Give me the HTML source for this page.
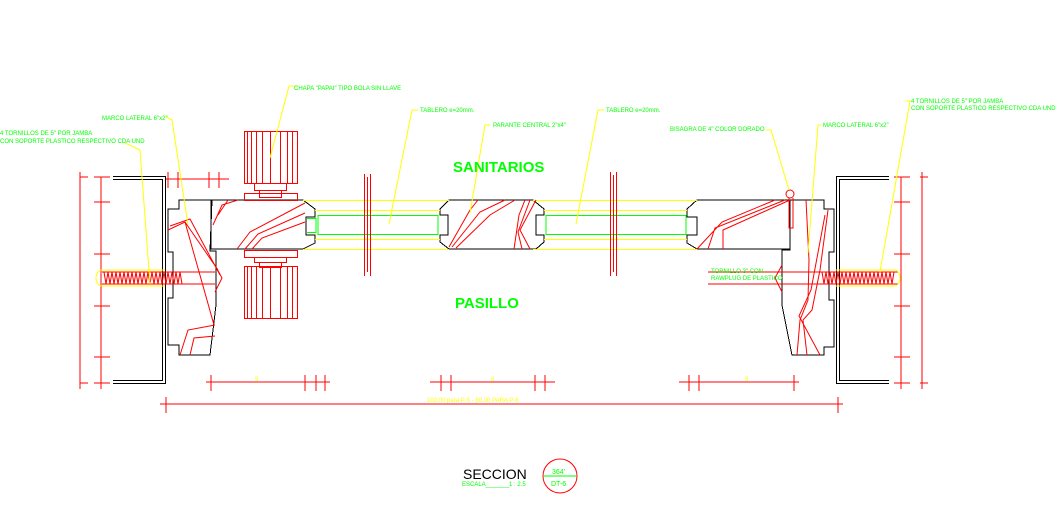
<!DOCTYPE html>
<html><head><meta charset="utf-8"><style>
html,body{margin:0;padding:0;background:#fff;}
svg{display:block;}
text{font-family:"Liberation Sans",sans-serif;}
</style></head><body>
<svg width="1056" height="513" viewBox="0 0 1056 513" xmlns="http://www.w3.org/2000/svg">
<g fill="none" stroke-width="1" shape-rendering="crispEdges">
<path d="M113 176.5H165.5V383.5H113 M113 179.5H162.5V380.5H113" stroke="#000"/>
<path d="M889 176.5H836.5V383.5H889 M889 179.5H839.5V380.5H889" stroke="#000"/>
<path d="M212 200H179V209H168V252H173V298H168V345H179V355H210L216 305V251H210Z" stroke="#000"/>
<path d="M790 200H824V209H834V252H829V300H834V347H824V355H792L782 305V250H790Z" stroke="#000"/>
<path d="M211 200H303L315 209V217H306V235H315V243L303 249H211Z" stroke="#000"/>
<path d="M790 200H697L687 209V217H697V235H687V243L697 249H790" stroke="#000"/>
<path d="M449 200H533L544 209V215H536V235H544V242L536 249H449L440 242V235H448V215H440V209Z" stroke="#000"/>
<path d="M303 200.5H449 M315 210.5H440 M315 239.5H440 M303 249.5H449 M533 200.5H697 M544 210.5H687 M544 239.5H687 M533 249.5H697" stroke="#ff0"/>
<path d="M318 215.5H438V234.5H318Z M546 215.5H686V234.5H546Z M307 218.5H316V232.5H307" stroke="#0f0"/>
<path d="M364.5 174V276 M367.5 177V272 M370.5 174V276 M610.5 172V276 M613.5 175V272 M616.5 172V276" stroke="#f00"/>
<g stroke="#f00">
<rect x="244.5" y="131.5" width="53" height="52"/><rect x="244.5" y="266.5" width="53" height="52"/>
<rect x="254.5" y="183.5" width="32" height="7"/><rect x="259.5" y="190.5" width="22" height="7"/>
<rect x="244.5" y="193.5" width="53" height="7"/><rect x="244.5" y="250.5" width="53" height="7"/>
<rect x="254.5" y="257.5" width="32" height="5"/><rect x="259.5" y="262.5" width="22" height="5"/>
<path d="M247.5 131V183M251.5 131V183M256.5 131V183M262.5 131V183M270.5 131V183M280.5 131V183M287.5 131V183M292.5 131V183 M247.5 266V318M251.5 266V318M256.5 266V318M262.5 266V318M270.5 266V318M280.5 266V318M287.5 266V318M292.5 266V318"/>
</g>
</g>
<g fill="none" stroke-width="1" stroke="#f00">
<path d="M237 249L250 232L305 203 M245 249L258 234L305 213 M252 249L262 238L305 222 M213 225L222 205L238 200 M218 215L228 200"/>
<path d="M168 230L185 222L218 270 M170 226L190 219L220 275 M185 222L214 325 M180 355L188 330L215 325 M190 355L194 338L215 336"/>
<path d="M449 247L470 210L478 200 M452 247L480 212L505 200 M456 248L490 215L515 200 M514 249L519 215L525 200 M522 249L518 232L530 200 M530 249L520 230L536 200"/>
<path d="M697 249L722 222L775 200 M708 249L715 228L785 200 M723 249L723 230L790 200"/>
<path d="M806 200L809 260L808 300L800 320L797 355 M828 210L820 270L812 310L803 320L807 355 M825 215L811 290L799 316L820 355"/>
<circle cx="790" cy="194" r="4"/><path d="M789 198V228H793V198"/>
<path d="M102 272H215 M102 284H215 M215 265L222 278L215 292 M708 272H805 M708 284H805 M782 265L775 278L782 292 M805 272H898 M805 284H898"/>
<path d="M104 272L106 284L108 272L110 284L112 272L114 284L116 272L118 284L120 272L122 284L124 272L126 284L128 272L130 284L132 272L134 284L136 272L138 284L140 272L142 284L144 272L146 284L148 272L150 284L152 272L154 284L156 272L158 284L160 272L162 284L164 272L166 284L168 272L170 284L172 272L174 284L176 272L178 284L180 272L182 284"/>
<path d="M822 272L824 284L826 272L828 284L830 272L832 284L834 272L836 284L838 272L840 284L842 272L844 284L846 272L848 284L850 272L852 284L854 272L856 284L858 272L860 284L862 272L864 284L866 272L868 284L870 272L872 284L874 272L876 284L878 272L880 284L882 272L884 284L886 272L888 284L890 272L892 284L894 272"/>
<path d="M80 177H88 M80 383H88 M80 172V389 M101 177V389 M94 177H110 M94 202H110 M94 254H110 M94 306H110 M94 357H110 M94 383H110"/>
<path d="M920 177H928 M920 383H928 M922 172V389 M901 177V389 M894 177H910 M894 202H910 M894 254H910 M894 306H910 M894 357H910 M894 383H910"/>
<path d="M166 179H229 M168 172V188 M178 172V188 M209 172V188 M219 172V188"/>
<path d="M206 382H330 M211 375V391 M305 375V391 M316 375V391 M325 375V391"/>
<path d="M430 382H555 M441 375V391 M451 375V391 M535 375V391 M545 375V391"/>
<path d="M679 382H799 M689 375V391 M699 375V391 M794 375V391"/>
<path d="M160 404H843 M166 397V413 M838 397V413"/>
<circle cx="560" cy="476" r="17"/><path d="M543 476H577" stroke="#0f0"/>
</g>
<path d="M125 143L140 150L150 284 M166 117L172 120L188 225 M297 86L289 86L270 158 M418 110L412 110L389 224 M490 125L485 125L470 213 M604 110L598 110L576 224 M766 130L771 130L789 190 M821 125L818 125L808 253 M905 101L910 101L880 272" stroke="#ff0" fill="none"/>
<path d="M165 270H102C94 270 94 286 102 286H165 M836 270H894C902 270 902 286 894 286H836" stroke="#ff0" fill="none"/>
<g fill="#0f0" font-size="6">
<text x="0" y="135">4 TORNILLOS DE 5" POR JAMBA</text>
<text x="0" y="143">CON SOPORTE PLASTICO RESPECTIVO CDA UND</text>
<text x="102" y="120">MARCO LATERAL 6"x2"</text>
<text x="294" y="90">CHAPA "PAPAI" TIPO BOLA SIN LLAVE</text>
<text x="420" y="112">TABLERO e=20mm.</text>
<text x="493" y="127">PARANTE CENTRAL 2"x4"</text>
<text x="606" y="112">TABLERO e=20mm.</text>
<text x="670" y="131">BISAGRA DE 4" COLOR DORADO</text>
<text x="823" y="127">MARCO LATERAL 6"x2"</text>
<text x="911" y="103">4 TORNILLOS DE 5" POR JAMBA</text>
<text x="911" y="110">CON SOPORTE PLASTICO RESPECTIVO CDA UND</text>
<text x="711" y="273">TORNILLO 3" CON</text>
<text x="711" y="280">RAWPLUG DE PLASTICO</text>
<text x="462" y="486" font-size="6">ESCALA_______1 : 2.5</text>
<text x="552" y="474" font-size="7">364'</text>
<text x="551" y="486" font-size="7">DT-6</text>
</g>
<g fill="#0f0" font-weight="bold" font-size="15">
<text x="453" y="172">SANITARIOS</text>
<text x="455" y="308">PASILLO</text>
</g>
<g fill="#ff0" font-size="6">
<text x="427" y="402">100.00 para P-5 - 80.00 PARA P-6</text>
<text x="255" y="381">9</text><text x="491" y="381">8</text><text x="745" y="381">9</text>
</g>
<text x="463" y="479" font-size="14" fill="#000">SECCION</text>
</svg>
</body></html>
